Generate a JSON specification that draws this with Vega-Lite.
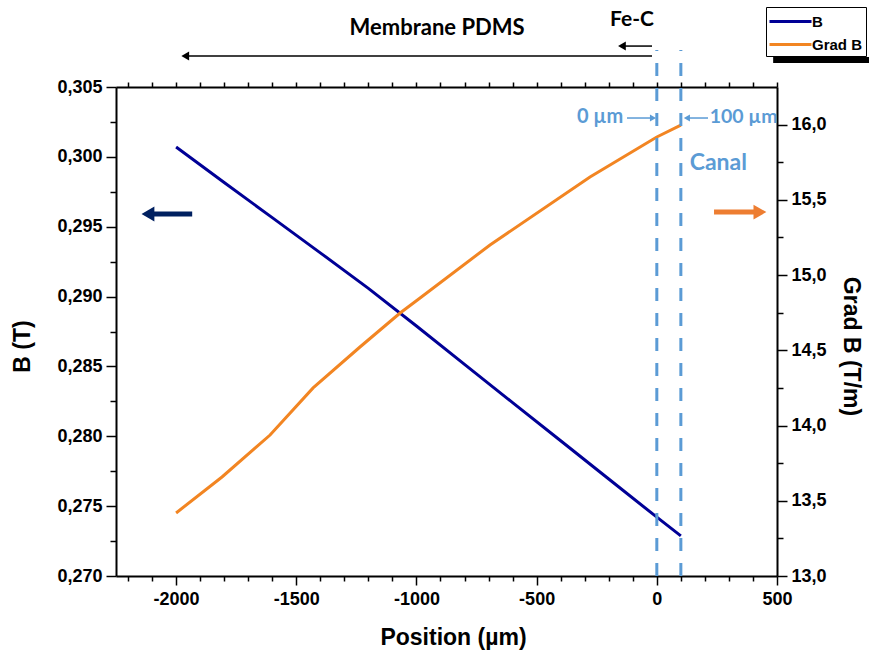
{
  "$schema": "https://vega.github.io/schema/vega-lite/v6.json",
  "width": 661,
  "height": 489,
  "autosize": "none",
  "padding": {"left": 116, "top": 87, "right": 92, "bottom": 79},
  "background": "white",
  "config": {
    "view": {"stroke": null},
    "axis": {
      "domainColor": "black", "domainWidth": 2, "tickColor": "black", "tickWidth": 1.5,
      "labelColor": "black", "titleColor": "black",
      "labelFont": "Liberation Sans", "labelFontWeight": "bold", "labelFontSize": 18,
      "titleFont": "Liberation Sans", "titleFontWeight": "bold", "titleFontSize": 23,
      "grid": false, "labelOverlap": false, "labelFlush": false, "labelBound": false
    },
    "legend": {
      "orient": "none", "legendX": 650, "legendY": -80, "title": null,
      "strokeColor": "black", "fillColor": "white", "padding": 3,
      "symbolType": "M-2.1,0H2.1", "symbolStrokeWidth": 3, "symbolSize": 400, "symbolOffset": 10,
      "labelFont": "Liberation Sans", "labelFontWeight": "bold", "labelFontSize": 15,
      "labelColor": "black", "rowPadding": 3, "labelOffset": 10
    },
    "text": {"font": "Lato", "fontWeight": "bold"}
  },
  "datasets": {
    "bdata": [
      {"pos": -2000, "B": 0.30071}, {"pos": -1800, "B": 0.29817}, {"pos": -1600, "B": 0.29565},
      {"pos": -1400, "B": 0.29313}, {"pos": -1200, "B": 0.29059}, {"pos": -1000, "B": 0.28789},
      {"pos": -800, "B": 0.28515}, {"pos": -600, "B": 0.28241}, {"pos": -400, "B": 0.27968},
      {"pos": -200, "B": 0.27694}, {"pos": 0, "B": 0.27421}, {"pos": 100, "B": 0.27287}
    ],
    "gdata": [
      {"pos": -2000, "G": 13.419}, {"pos": -1809, "G": 13.658}, {"pos": -1609, "G": 13.937},
      {"pos": -1430, "G": 14.25}, {"pos": -1235, "G": 14.522}, {"pos": -1068, "G": 14.748},
      {"pos": -985, "G": 14.848}, {"pos": -694, "G": 15.2}, {"pos": -278, "G": 15.652},
      {"pos": 0, "G": 15.918}, {"pos": 100, "G": 15.997}
    ]
  },
  "layer": [
    {
      "data": {"name": "bdata"},
      "mark": {"type": "line", "strokeWidth": 3},
      "encoding": {
        "x": {
          "field": "pos", "type": "quantitative",
          "scale": {"domain": [-2250, 500], "nice": false, "zero": false},
          "axis": {
            "orient": "bottom",
            "values": [-2200, -2100, -2000, -1900, -1800, -1700, -1600, -1500, -1400, -1300, -1200, -1100, -1000, -900, -800, -700, -600, -500, -400, -300, -200, -100, 0, 100, 200, 300, 400, 500],
            "labelExpr": "datum.value % 500 == 0 ? '' + datum.value : ''",
            "labelOverlap": false,
            "tickSize": {"condition": {"test": "datum.value % 500 == 0", "value": 9}, "value": 5},
            "labelPadding": 5,
            "title": "Position (µm)",
            "titleX": 337, "titleY": 61, "titleAlign": "center", "titleBaseline": "middle"
          }
        },
        "y": {
          "field": "B", "type": "quantitative",
          "scale": {"domain": [0.27, 0.305], "nice": false, "zero": false},
          "axis": {
            "orient": "left",
            "values": [0.27, 0.2725, 0.275, 0.2775, 0.28, 0.2825, 0.285, 0.2875, 0.29, 0.2925, 0.295, 0.2975, 0.3, 0.3025, 0.305],
            "labelExpr": "round(datum.value * 10000) % 50 == 0 ? replace(format(datum.value, '.3f'), '.', ',') : ''",
            "labelOverlap": false,
            "tickSize": {"condition": {"test": "round(datum.value * 10000) % 50 == 0", "value": 10}, "value": 6},
            "labelPadding": 4,
            "title": "B (T)",
            "titleX": -94, "titleY": 259, "titleAngle": -90, "titleAlign": "center", "titleBaseline": "middle"
          }
        },
        "color": {
          "datum": "B", "type": "nominal",
          "scale": {"domain": ["B", "Grad B"], "range": ["#000096", "#F28522"]}
        }
      }
    },
    {
      "data": {"name": "gdata"},
      "mark": {"type": "line", "strokeWidth": 3},
      "encoding": {
        "x": {
          "field": "pos", "type": "quantitative",
          "scale": {"domain": [-2250, 500], "nice": false, "zero": false},
          "axis": {
            "orient": "top",
            "values": [-2200, -2100, -2000, -1900, -1800, -1700, -1600, -1500, -1400, -1300, -1200, -1100, -1000, -900, -800, -700, -600, -500, -400, -300, -200, -100, 0, 100, 200, 300, 400, 500],
            "domainColor": "black", "tickColor": "black", "labelColor": "black", "labelFontSize": 9,
            "labelOpacity": 0, "titleColor": "black", "titleOpacity": 0,
            "title": "Position (µm)", "tickSize": 5
          }
        },
        "y": {
          "field": "G", "type": "quantitative",
          "scale": {"domain": [13, 16.25], "nice": false, "zero": false},
          "axis": {
            "orient": "right",
            "values": [13, 13.25, 13.5, 13.75, 14, 14.25, 14.5, 14.75, 15, 15.25, 15.5, 15.75, 16],
            "labelExpr": "round(datum.value * 100) % 50 == 0 ? replace(format(datum.value, '.1f'), '.', ',') : ''",
            "labelOverlap": false,
            "tickSize": {"condition": {"test": "round(datum.value * 100) % 50 == 0", "value": 10}, "value": 6},
            "labelPadding": 4,
            "title": "Grad B (T/m)",
            "titleX": 73, "titleY": 259, "titleAngle": 90, "titleAlign": "center", "titleBaseline": "middle"
          }
        },
        "color": {"datum": "Grad B", "type": "nominal"}
      }
    },
    {
      "data": {"values": [{"pos": 0}, {"pos": 100}]},
      "mark": {"type": "rule", "color": "#5B9BD5", "strokeWidth": 3, "strokeDash": [13, 12]},
      "encoding": {
        "x": {"field": "pos", "type": "quantitative", "scale": {"domain": [-2250, 500]}, "axis": null},
        "y": {"datum": 0.27, "scale": {"domain": [0.27, 0.305]}, "axis": null},
        "y2": {"datum": 0.30765}
      }
    },
    {
      "data": {"values": [{}]},
      "mark": {"type": "text", "fontSize": 22, "color": "black"},
      "encoding": {"x": {"datum": -914, "scale": {"domain": [-2250, 500]}, "axis": null}, "y": {"datum": 0.30922, "scale": {"domain": [0.27, 0.305]}, "axis": null}, "text": {"value": "Membrane PDMS"}}
    },
    {
      "data": {"values": [{}]},
      "mark": {"type": "text", "fontSize": 21, "color": "black"},
      "encoding": {"x": {"datum": -103, "scale": {"domain": [-2250, 500]}, "axis": null}, "y": {"datum": 0.3098, "scale": {"domain": [0.27, 0.305]}, "axis": null}, "text": {"value": "Fe-C"}}
    },
    {
      "data": {"values": [{}]},
      "mark": {"type": "text", "fontSize": 20, "color": "#5B9BD5"},
      "encoding": {"x": {"datum": -236, "scale": {"domain": [-2250, 500]}, "axis": null}, "y": {"datum": 0.30285, "scale": {"domain": [0.27, 0.305]}, "axis": null}, "text": {"value": "0 µm"}}
    },
    {
      "data": {"values": [{}]},
      "mark": {"type": "text", "fontSize": 19.5, "color": "#5B9BD5"},
      "encoding": {"x": {"datum": 361, "scale": {"domain": [-2250, 500]}, "axis": null}, "y": {"datum": 0.30285, "scale": {"domain": [0.27, 0.305]}, "axis": null}, "text": {"value": "100 µm"}}
    },
    {
      "data": {"values": [{}]},
      "mark": {"type": "text", "fontSize": 23, "color": "#5B9BD5"},
      "encoding": {"x": {"datum": 256, "scale": {"domain": [-2250, 500]}, "axis": null}, "y": {"datum": 0.29956, "scale": {"domain": [0.27, 0.305]}, "axis": null}, "text": {"value": "Canal"}}
    },
    {
      "data": {"values": [{}]},
      "mark": {"type": "rule", "color": "black", "strokeWidth": 1.5},
      "encoding": {"x": {"datum": -1955, "scale": {"domain": [-2250, 500]}, "axis": null}, "x2": {"datum": -20}, "y": {"datum": 0.30722, "scale": {"domain": [0.27, 0.305]}, "axis": null}}
    },
    {
      "data": {"values": [{}]},
      "mark": {"type": "point", "shape": "triangle-left", "filled": true, "color": "black", "size": 80, "opacity": 1},
      "encoding": {"x": {"datum": -1962, "scale": {"domain": [-2250, 500]}, "axis": null}, "y": {"datum": 0.30722, "scale": {"domain": [0.27, 0.305]}, "axis": null}}
    },
    {
      "data": {"values": [{}]},
      "mark": {"type": "rule", "color": "black", "strokeWidth": 1.5},
      "encoding": {"x": {"datum": -140, "scale": {"domain": [-2250, 500]}, "axis": null}, "x2": {"datum": -20}, "y": {"datum": 0.30793, "scale": {"domain": [0.27, 0.305]}, "axis": null}}
    },
    {
      "data": {"values": [{}]},
      "mark": {"type": "point", "shape": "triangle-left", "filled": true, "color": "black", "size": 80, "opacity": 1},
      "encoding": {"x": {"datum": -145, "scale": {"domain": [-2250, 500]}, "axis": null}, "y": {"datum": 0.30793, "scale": {"domain": [0.27, 0.305]}, "axis": null}}
    },
    {
      "data": {"values": [{}]},
      "mark": {"type": "rule", "color": "#5B9BD5", "strokeWidth": 1.5},
      "encoding": {"x": {"datum": -124, "scale": {"domain": [-2250, 500]}, "axis": null}, "x2": {"datum": -24}, "y": {"datum": 0.30278, "scale": {"domain": [0.27, 0.305]}, "axis": null}}
    },
    {
      "data": {"values": [{}]},
      "mark": {"type": "point", "shape": "triangle-right", "filled": true, "color": "#5B9BD5", "size": 50, "opacity": 1},
      "encoding": {"x": {"datum": -16, "scale": {"domain": [-2250, 500]}, "axis": null}, "y": {"datum": 0.30278, "scale": {"domain": [0.27, 0.305]}, "axis": null}}
    },
    {
      "data": {"values": [{}]},
      "mark": {"type": "rule", "color": "#5B9BD5", "strokeWidth": 1.5},
      "encoding": {"x": {"datum": 132, "scale": {"domain": [-2250, 500]}, "axis": null}, "x2": {"datum": 213}, "y": {"datum": 0.30278, "scale": {"domain": [0.27, 0.305]}, "axis": null}}
    },
    {
      "data": {"values": [{}]},
      "mark": {"type": "point", "shape": "triangle-left", "filled": true, "color": "#5B9BD5", "size": 50, "opacity": 1},
      "encoding": {"x": {"datum": 125, "scale": {"domain": [-2250, 500]}, "axis": null}, "y": {"datum": 0.30278, "scale": {"domain": [0.27, 0.305]}, "axis": null}}
    },
    {
      "data": {"values": [{}]},
      "mark": {"type": "rule", "color": "#002060", "strokeWidth": 5},
      "encoding": {"x": {"datum": -2105, "scale": {"domain": [-2250, 500]}, "axis": null}, "x2": {"datum": -1933}, "y": {"datum": 0.29591, "scale": {"domain": [0.27, 0.305]}, "axis": null}}
    },
    {
      "data": {"values": [{}]},
      "mark": {"type": "point", "shape": "triangle-left", "filled": true, "color": "#002060", "size": 220, "opacity": 1},
      "encoding": {"x": {"datum": -2117, "scale": {"domain": [-2250, 500]}, "axis": null}, "y": {"datum": 0.29591, "scale": {"domain": [0.27, 0.305]}, "axis": null}}
    },
    {
      "data": {"values": [{}]},
      "mark": {"type": "rule", "color": "#ED7D31", "strokeWidth": 5},
      "encoding": {"x": {"datum": 238, "scale": {"domain": [-2250, 500]}, "axis": null}, "x2": {"datum": 415}, "y": {"datum": 0.29605, "scale": {"domain": [0.27, 0.305]}, "axis": null}}
    },
    {
      "data": {"values": [{}]},
      "mark": {"type": "point", "shape": "triangle-right", "filled": true, "color": "#ED7D31", "size": 220, "opacity": 1},
      "encoding": {"x": {"datum": 429, "scale": {"domain": [-2250, 500]}, "axis": null}, "y": {"datum": 0.29605, "scale": {"domain": [0.27, 0.305]}, "axis": null}}
    },
    {
      "data": {"values": [{}]},
      "mark": {"type": "rect", "color": "black"},
      "encoding": {"x": {"datum": 484, "scale": {"domain": [-2250, 500]}, "axis": null}, "x2": {"datum": 900}, "y": {"datum": 0.30715, "scale": {"domain": [0.27, 0.305]}, "axis": null}, "y2": {"datum": 0.30672}}
    }
  ],
  "resolve": {"scale": {"x": "independent", "y": "independent"}, "axis": {"x": "independent", "y": "independent"}}
}
